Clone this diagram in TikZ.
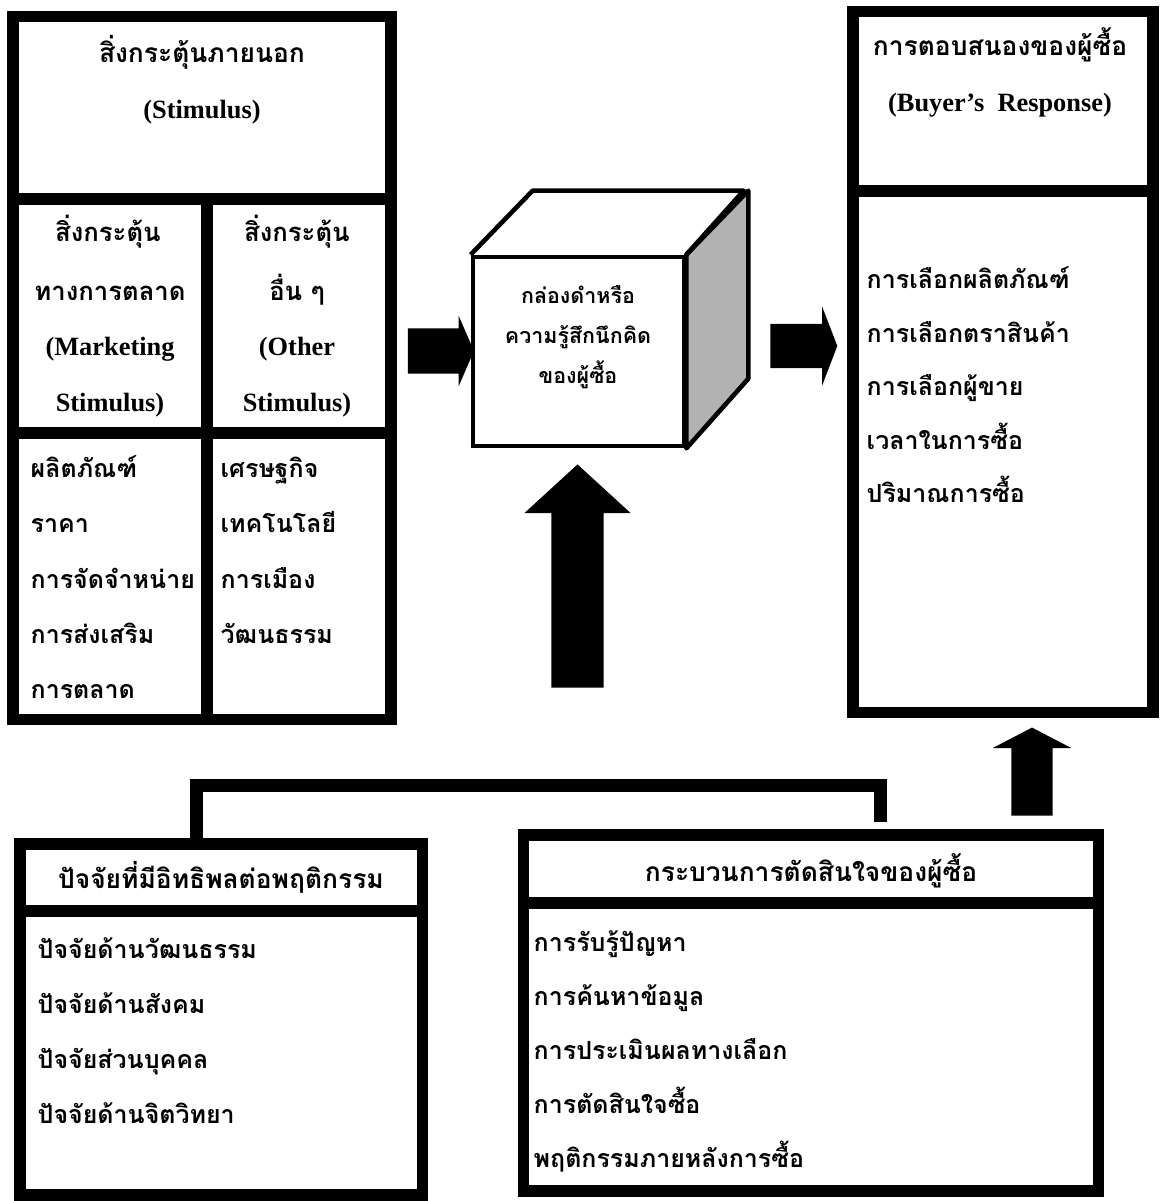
\documentclass[tikz,border=0pt]{standalone}
\usepackage{fontspec}
\setmainfont{Liberation Serif}
\newfontfamily\thaifont[Script=Thai]{Loma}
\usetikzlibrary{shapes.arrows}

\tikzset{
  frame/.style={draw, line width=3.2pt, inner sep=0pt},
  thhead/.style={font=\thaifont\bfseries\fontsize{7.5}{9}\selectfont, inner sep=0pt},
  thcell/.style={font=\thaifont\bfseries\fontsize{7.3}{9}\selectfont, inner sep=0pt},
  thtext/.style={font=\thaifont\bfseries\fontsize{7.1}{9}\selectfont, inner sep=0pt},
  entext/.style={font=\bfseries\fontsize{7.5}{9}\selectfont, inner sep=0pt},
  cubetext/.style={font=\thaifont\bfseries\fontsize{6.1}{8}\selectfont, inner sep=0pt},
  fatarrow/.style={single arrow, fill=black, single arrow head indent=0pt},
  bracket/.style={line width=3.7pt}
}

\begin{document}
\begin{tikzpicture}[x=0.01cm,y=-0.01cm]
\useasboundingbox (0,0) rectangle (1162,1201);

%% frames
\node[frame, minimum width=3.78cm, minimum height=7.02cm] (stim) at (202,368) {};
\node[frame, minimum width=3.00cm, minimum height=7.00cm] (resp) at (1003,362) {};
\node[frame, minimum width=4.02cm, minimum height=3.51cm] (infl) at (221,1019.5) {};
\node[frame, minimum width=5.74cm, minimum height=3.56cm] (proc) at (811,1013) {};

%% dividers
\draw[line width=3.4pt] (stim.west |- 0,199) -- (stim.east |- 0,199);
\draw[line width=3.4pt] (207,199) -- (stim.south -| 207,0);
\draw[line width=3.4pt] (stim.west |- 0,433) -- (stim.east |- 0,433);
\draw[line width=3.4pt] (resp.west |- 0,191) -- (resp.east |- 0,191);
\draw[line width=3.4pt] (infl.west |- 0,911) -- (infl.east |- 0,911);
\draw[line width=3.4pt] (proc.west |- 0,903) -- (proc.east |- 0,903);

%% stimulus box
\node[thhead, anchor=base] (stimth) at (202,63) {สิ่งกระตุ้นภายนอก};
\node[entext, anchor=base] (stimen) at (202,119) {(Stimulus)};
\node[thcell, anchor=base] (mkth1) at (108,242) {สิ่งกระตุ้น};
\node[thcell, anchor=base] (mkth2) at (110,301) {ทางการตลาด};
\node[entext, anchor=base] (mken1) at (110,356) {(Marketing};
\node[entext, anchor=base] (mken2) at (110,412) {Stimulus)};
\node[thcell, anchor=base] (otth1) at (297,242) {สิ่งกระตุ้น};
\node[thcell, anchor=base] (otth2) at (297,301) {อื่น ๆ};
\node[entext, anchor=base] (oten1) at (297,356) {(Other};
\node[entext, anchor=base] (oten2) at (297,412) {Stimulus)};
\foreach \t [count=\i] in {ผลิตภัณฑ์, ราคา, การจัดจำหน่าย, การส่งเสริม, การตลาด}
  \node[thtext, anchor=base west] (mk\i) at (30,{478+55*(\i-1)}) {\t};
\foreach \t [count=\i] in {เศรษฐกิจ, เทคโนโลยี, การเมือง, วัฒนธรรม}
  \node[thtext, anchor=base west] (ot\i) at (220,{478+55*(\i-1)}) {\t};

%% response box
\node[thhead, anchor=base] (respth) at (1000,56) {การตอบสนองของผู้ซื้อ};
\node[entext, anchor=base] (respen) at (1000,112) {(Buyer’s\ \ Response)};
\foreach \t [count=\i] in {การเลือกผลิตภัณฑ์, การเลือกตราสินค้า, การเลือกผู้ขาย, เวลาในการซื้อ, ปริมาณการซื้อ}
  \node[thtext, anchor=base west] (rs\i) at (866,{289+53.5*(\i-1)}) {\t};

%% black box (cube)
\node[draw, line width=1.3pt, minimum width=2.11cm, minimum height=1.89cm] (cube) at (578.5,351.5) {};
\filldraw[line width=1.3pt, line join=round, fill=gray!60] (cube.north east) -- ++(62,-64) -- ++(0,188) -- (cube.south east) -- cycle;
\draw[line width=1.3pt, line join=round] (cube.north west) -- ++(62,-64) -- ++(211,0) -- (cube.north east);
\node[cubetext, anchor=base] (box1) at (578,304) {กล่องดำหรือ};
\node[cubetext, anchor=base] (box2) at (578,344) {ความรู้สึกนึกคิด};
\node[cubetext, anchor=base] (box3) at (578,384) {ของผู้ซื้อ};

%% arrows (inner sep = half the shaft)
\node[fatarrow, inner sep=0.22cm, minimum height=0.66cm, minimum width=0.69cm, single arrow head extend=0.125cm, single arrow tip angle=133] (inarr) at (436,351) {};
\node[fatarrow, inner sep=0.215cm, minimum height=0.67cm, minimum width=0.78cm, single arrow head extend=0.175cm, single arrow tip angle=138] (outarr) at (799.5,346) {};
\node[fatarrow, inner sep=0.255cm, shape border rotate=90, minimum height=2.23cm, minimum width=1.05cm, single arrow head extend=0.27cm, single arrow tip angle=95] (uparr) at (577.5,588) {};
\node[fatarrow, inner sep=0.2cm, shape border rotate=90, minimum height=0.88cm, minimum width=0.77cm, single arrow head extend=0.185cm, single arrow tip angle=125] (resparr) at (1032,777) {};

%% influence box
\node[thhead, anchor=base] (inflth) at (221,888) {ปัจจัยที่มีอิทธิพลต่อพฤติกรรม};
\foreach \t [count=\i] in {ปัจจัยด้านวัฒนธรรม, ปัจจัยด้านสังคม, ปัจจัยส่วนบุคคล, ปัจจัยด้านจิตวิทยา}
  \node[thtext, anchor=base west] (if\i) at (37,{958+55*(\i-1)}) {\t};

%% process box
\node[thhead, anchor=base] (procth) at (811,881) {กระบวนการตัดสินใจของผู้ซื้อ};
\foreach \t [count=\i] in {การรับรู้ปัญหา, การค้นหาข้อมูล, การประเมินผลทางเลือก, การตัดสินใจซื้อ, พฤติกรรมภายหลังการซื้อ}
  \node[thtext, anchor=base west] (pr\i) at (533,{951+54*(\i-1)}) {\t};

%% bracket
\draw[bracket] ([xshift=-0.24cm]infl.north) -- ++(0,-53) -| ([xshift=0.69cm,yshift=0.07cm]proc.north);

\end{tikzpicture}
\end{document}
